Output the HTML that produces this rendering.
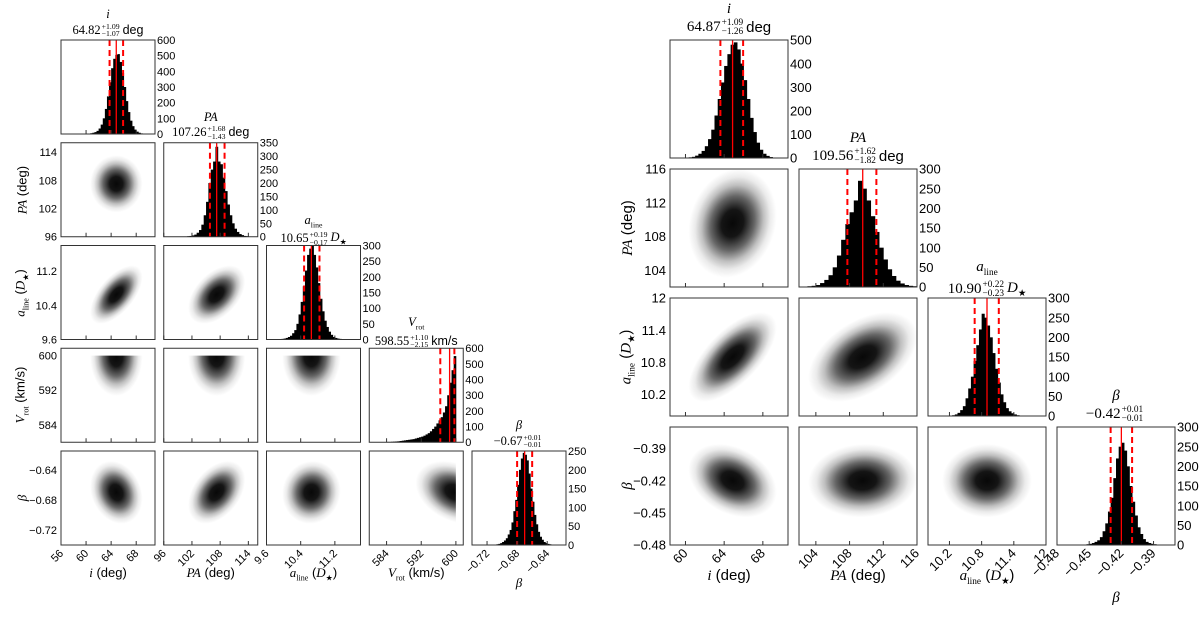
<!DOCTYPE html>
<html><head><meta charset="utf-8">
<style>
body{margin:0;background:#fff;}
#wrap{position:relative;width:1200px;height:620px;overflow:hidden;background:#fff;font-family:"Liberation Sans",sans-serif;color:#000;}
svg{position:absolute;left:0;top:0;}
.ttl{position:absolute;transform:translateX(-50%);text-align:center;white-space:nowrap;line-height:1;}
.sym{font-family:"Liberation Serif",serif;font-style:italic;}
.val{display:flex;align-items:center;justify-content:center;}
.num{font-family:"Liberation Serif",serif;}
.ss{display:inline-flex;flex-direction:column;font-family:"Liberation Serif",serif;font-size:0.62em;line-height:0.95;margin:0 2px 0 1px;}
.unit{margin-left:1px;}
.lab{position:absolute;white-space:nowrap;line-height:1;}
.it{font-family:"Liberation Serif",serif;font-style:italic;}
sub{font-size:0.62em;font-style:normal;font-family:"Liberation Serif",serif;}
</style></head>
<body>
<div id="wrap">
<svg id="svg" width="1200" height="620"></svg>
</div>
<script>
// ---------- LEFT corner data ----------
const leftNames = ['i','PA','aline','Vrot','beta'];
const leftMedian = [64.82,107.26,10.65,598.55,-0.67];
const leftErrLo = [1.07,1.43,0.17,2.15,0.01];
const leftErrHi = [1.09,1.68,0.19,1.10,0.01];
const leftSd = [1.1,1.6,0.18,2.2,0.011];
const leftHistI = [2,3,5,8,12,20,35,60,100,160,240,330,420,480,505,510,460,390,300,210,140,85,50,28,15,8,4,2,1,0];
const leftHistPA = [2,3,5,8,15,25,45,80,130,200,250,280,335,280,270,220,170,120,80,50,30,18,10,6,3,2];
const leftHistA = [1,2,3,5,8,12,20,30,50,80,120,170,220,270,290,300,270,230,180,130,90,60,40,25,15,8,5,3,2,1];
const leftHistV = [1,1,2,2,3,4,5,6,8,10,12,14,16,18,20,24,28,32,36,42,50,58,70,85,100,120,140,160,190,230,300,380,460,550];
const leftHistB = [1,2,3,5,8,12,18,28,40,60,90,120,160,200,230,245,240,225,190,150,115,80,55,35,22,14,8,5,3,2,1,1];
const leftTickI = [56,60,64,68];
const leftTickPA = [96,102,108,114];
const leftTickA = [9.6,10.4,11.2];
const leftTickV = [584,592,600];
const leftTickB = [-0.72,-0.68,-0.64];
// ---------- RIGHT corner data ----------
const rightNames = ['i','PA','aline','beta'];
const rightMedian = [64.87,109.56,10.90,-0.42];
const rightErrLo = [1.26,1.82,0.23,0.01];
const rightErrHi = [1.09,1.62,0.22,0.01];
const rightSd = [1.2,1.7,0.22,0.009];
const rightHistI = [2,3,5,10,18,30,50,80,120,180,250,320,390,440,480,490,460,400,330,250,170,110,65,35,18,9,4,2,1,1];
const rightHistPA = [2,3,5,10,18,30,50,80,120,160,190,220,270,250,220,180,140,100,70,45,28,16,9,5,3,2];
const rightHistA = [1,2,4,8,15,25,45,70,100,140,180,220,260,250,230,200,160,120,85,55,35,20,12,7,4,2,1,1];
const rightHistB = [1,2,3,5,8,12,20,35,55,85,120,170,220,250,260,240,200,150,110,75,45,28,15,8,5,3,2,1];
const rightTickI = [60,64,68];
const rightTickPA = [104,108,112,116];
const rightTickA = [10.2,10.8,11.4,12.0];
const rightTickB = [-0.48,-0.45,-0.42,-0.39];

const NS='http://www.w3.org/2000/svg';
const svg=document.getElementById('svg');
const wrap=document.getElementById('wrap');
function tag(el,name,inter){
  
  
}
function S(t,a,p){const e=document.createElementNS(NS,t);for(const k in a)e.setAttribute(k,a[k]);(p||svg).appendChild(e);return e;}
const defs=S('defs',{});
const rg=S('radialGradient',{id:'cloud'},defs);
[[0,0.97],[0.25,0.92],[0.5,0.6],[0.7,0.25],[0.85,0.08],[1,0]].forEach(s=>S('stop',{offset:s[0],'stop-color':'#000','stop-opacity':s[1]},rg));

function fmtT(v){const s=(Math.abs(v)<1&&v!==0)?v.toFixed(2):(Number.isInteger(v)?String(v):v.toFixed(1));return s.replace('-','\u2212');}

const symHTML={i:'<span class="it">i</span>',PA:'<span class="it">PA</span>',aline:'<span class="it">a</span><sub>line</sub>',Vrot:'<span class="it">V</span><sub>rot</sub>',beta:'<span class="it">β</span>'};
const unitHTML={i:' deg',PA:' deg',aline:' <span class="it">D</span><sub>★</sub>',Vrot:' km/s',beta:''};
const axisHTML={i:'<span class="it">i</span> (deg)',PA:'<span class="it">PA</span> (deg)',aline:'<span class="it">a</span><sub>line</sub> (<span class="it">D</span><sub>★</sub>)',Vrot:'<span class="it">V</span><sub>rot</sub> (km/s)',beta:'<span class="it">β</span>'};

const corners=[
 {id:'left',x0:61,y0:40,step:102.75,size:94,fs:11,tfs:12.5,names:leftNames,med:leftMedian,lo:leftErrLo,hi:leftErrHi,sd:leftSd,
  hist:[leftHistI,leftHistPA,leftHistA,leftHistV,leftHistB],
  hrange:[[60,70],[101,114],[9.9,11.4],[583,600],[-0.71,-0.63]],
  hmax:[600,350,300,600,250],hstep:[100,50,50,100,50],
  range:[[56,71],[96,116],[9.6,11.8],[580,601.7],[-0.74,-0.615]],
  ticks:[leftTickI,leftTickPA,leftTickA,leftTickV,leftTickB],
  rho:{'0,1':0,'0,2':0.6,'1,2':0.45,'0,3':0,'1,3':0,'2,3':0,'0,4':-0.2,'1,4':0.4,'2,4':0.05,'3,4':-0.3},
  trunc:{3:{max:600,mean:599.8,sd:2.4}}, xlabY:566,ylabX:22,betaLabY:576},
 {id:'right',x0:670,y0:40,step:129,size:118,fs:13,tfs:15,names:rightNames,med:rightMedian,lo:rightErrLo,hi:rightErrHi,sd:rightSd,
  hist:[rightHistI,rightHistPA,rightHistA,rightHistB],
  hrange:[[60,70],[103,116],[10.2,11.6],[-0.455,-0.385]],
  hmax:[500,300,300,300],hstep:[100,50,50,50],
  range:[[58.4,70.6],[102,116],[9.8,12.0],[-0.48,-0.37]],
  ticks:[rightTickI,rightTickPA,rightTickA,rightTickB],
  rho:{'0,1':0.15,'0,2':0.65,'1,2':0.45,'0,3':-0.3,'1,3':0.05,'2,3':0},
  trunc:{}, xlabY:568,ylabX:628,betaLabY:590}
];

let clipN=0;
corners.forEach(C=>{
  const n=C.names.length,s=C.size;
  const g=S('g',{});tag(g,C.id+'-corner-plot',false);
  for(let r=0;r<n;r++)for(let c=0;c<=r;c++){
    const px=C.x0+c*C.step,py=C.y0+r*C.step;
    const [xl,xh]=C.range[c];
    const X=v=>px+(v-xl)/(xh-xl)*s;
    const pg=S('g',{},g);
    const cid='cp'+(clipN++);
    const cp=S('clipPath',{id:cid},defs);
    if(r===c){
      tag(pg,C.id+'-hist-'+C.names[c],false);
      S('rect',{x:px,y:py,width:s,height:s},cp);
      const H=C.hist[c],[h0,h1]=C.hrange[c],w=(h1-h0)/H.length,hm=C.hmax[c];
      const Y=v=>py+s-v/hm*s;
      const bg=S('g',{'clip-path':'url(#'+cid+')'},pg);
      H.forEach((v,k)=>{
        const x1=X(h0+k*w),x2=X(h0+(k+1)*w);
        const b=S('rect',{x:x1,y:Y(v),width:x2-x1+0.4,height:py+s-Y(v),fill:'#000'},bg);
        tag(b,'hist-bar',false);
      });
      const m=C.med[c];
      [[m-C.lo[c],'6,4',2],[m+C.hi[c],'6,4',2],[m,null,1.3]].forEach(L=>{
        const a={x1:X(L[0]),x2:X(L[0]),y1:py,y2:py+s,stroke:'#ff0000','stroke-width':L[2]};
        if(L[1])a['stroke-dasharray']=L[1];
        const ln=S('line',a,bg);tag(ln,L[1]?'quantile-line':'median-line',false);
      });
      for(let t=0;t<=hm;t+=C.hstep[c]){
        const tx=S('text',{x:px+s+2,y:Y(t)+C.fs*0.36,'font-size':C.fs,'font-family':'Liberation Sans, sans-serif'},pg);
        tx.textContent=t;tag(tx,'hist-count-tick',false);
      }
      const d=document.createElement('div');d.className='ttl';
      d.style.left=(px+s/2)+'px';d.style.top=(py-C.tfs*2.55)+'px';d.style.fontSize=C.tfs+'px';
      const sig=v=>v.toFixed(2);
      d.innerHTML='<div class="sym" style="margin-bottom:2px">'+symHTML[C.names[c]]+'</div><div class="val"><span class="num">'+(C.med[c]<0?'\u2212'+Math.abs(C.med[c]).toFixed(2):C.med[c].toFixed(2))+'</span><span class="ss"><span>+'+sig(C.hi[c])+'</span><span>\u2212'+sig(C.lo[c])+'</span></span><span class="unit">'+unitHTML[C.names[c]]+'</span></div>';
      tag(d,C.id+'-title-'+C.names[c],false);
      wrap.appendChild(d);
    } else {
      tag(pg,C.id+'-scatter-'+C.names[c]+'-vs-'+C.names[r],false);
      const [yl,yh]=C.range[r];
      const Y=v=>py+s-(v-yl)/(yh-yl)*s;
      let cx0=px,cy0=py,cw=s,ch=s;
      if(C.trunc[r]){cy0=Y(C.trunc[r].max);ch=py+s-cy0;}
      if(C.trunc[c]){cw=X(C.trunc[c].max)-px;}
      S('rect',{x:cx0,y:cy0,width:cw,height:ch},cp);
      const mx=C.trunc[c]?C.trunc[c].mean:C.med[c],sx=C.trunc[c]?C.trunc[c].sd:C.sd[c];
      const my=C.trunc[r]?C.trunc[r].mean:C.med[r],sy=C.trunc[r]?C.trunc[r].sd:C.sd[r];
      const rho=C.rho[c+','+r]||0;
      const kx=s/(xh-xl),ky=s/(yh-yl);
      const cl=S('g',{'clip-path':'url(#'+cid+')'},pg);
      const e=S('circle',{cx:0,cy:0,r:3.8,fill:'url(#cloud)',
        transform:'matrix('+(kx*sx)+','+(-ky*sy*rho)+',0,'+(-ky*sy*Math.sqrt(1-rho*rho))+','+X(mx)+','+Y(my)+')'},cl);
      tag(e,'posterior-sample-cloud',false);
      if(r>0&&c===0){
        C.ticks[r].forEach(t=>{
          const tx=S('text',{x:px-4,y:Y(t)+C.fs*0.36,'font-size':C.fs,'text-anchor':'end','font-family':'Liberation Sans, sans-serif'},pg);
          tx.textContent=fmtT(t);tag(tx,'y-tick-label',false);
        });
      }
    }
    const fr=S('rect',{x:px,y:py,width:s,height:s,fill:'none',stroke:'#333','stroke-width':1},pg);
    tag(fr,'panel-frame',false);
    C.ticks[c].forEach(t=>{const tl=S('line',{x1:X(t),x2:X(t),y1:py+s,y2:py+s-4,stroke:'#333'},pg);tag(tl,'x-tick',false);});
    if(r===n-1){
      C.ticks[c].forEach(t=>{
        const ax=X(t)+3,ay=py+s+9;
        const tx=S('text',{x:ax,y:ay,'font-size':C.fs,'text-anchor':'end',transform:'rotate(-45 '+ax+' '+ay+')','font-family':'Liberation Sans, sans-serif'},pg);
        tx.textContent=fmtT(t);tag(tx,'x-tick-label',false);
      });
      const lb=document.createElement('div');lb.className='lab';
      lb.style.fontSize=(C.fs+2)+'px';
      lb.style.left=(px+s/2)+'px';
      lb.style.top=((C.names[c]==='beta'?C.betaLabY:C.xlabY))+'px';
      lb.style.transform='translateX(-50%)';
      lb.innerHTML=axisHTML[C.names[c]];
      tag(lb,C.id+'-x-axis-title-'+C.names[c],false);
      wrap.appendChild(lb);
    }
    if(c===0&&r>0){
      const lb=document.createElement('div');lb.className='lab';
      lb.style.fontSize=(C.fs+2)+'px';
      lb.style.left=C.ylabX+'px';lb.style.top=(py+s/2)+'px';
      lb.style.transform='translate(-50%,-50%) rotate(-90deg)';
      lb.innerHTML=axisHTML[C.names[r]];
      tag(lb,C.id+'-y-axis-title-'+C.names[r],false);
      wrap.appendChild(lb);
    }
  }
});
</script>
</body></html>
